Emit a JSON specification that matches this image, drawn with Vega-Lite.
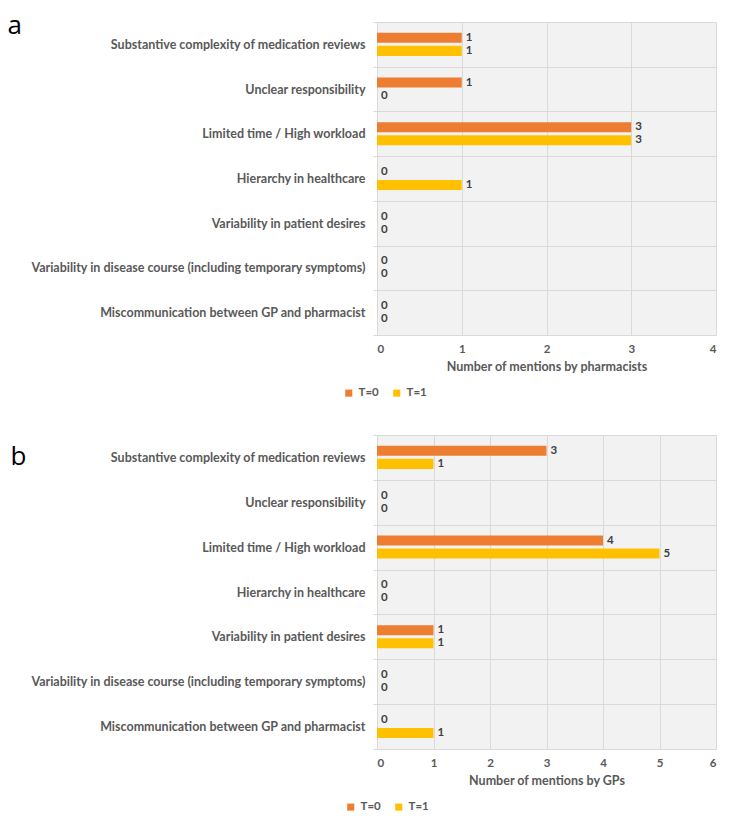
{
  "$schema": "https://vega.github.io/schema/vega-lite/v6.json",
  "background": "white",
  "padding": {"left": 7, "top": 12, "right": 5, "bottom": 5},
  "spacing": 30,
  "datasets": {
    "pharm": [
      {"category": "Substantive complexity of medication reviews", "series": "T=0", "value": 1},
      {"category": "Substantive complexity of medication reviews", "series": "T=1", "value": 1},
      {"category": "Unclear responsibility", "series": "T=0", "value": 1},
      {"category": "Unclear responsibility", "series": "T=1", "value": 0},
      {"category": "Limited time / High workload", "series": "T=0", "value": 3},
      {"category": "Limited time / High workload", "series": "T=1", "value": 3},
      {"category": "Hierarchy in healthcare", "series": "T=0", "value": 0},
      {"category": "Hierarchy in healthcare", "series": "T=1", "value": 1},
      {"category": "Variability in patient desires", "series": "T=0", "value": 0},
      {"category": "Variability in patient desires", "series": "T=1", "value": 0},
      {"category": "Variability in disease course (including temporary symptoms)", "series": "T=0", "value": 0},
      {"category": "Variability in disease course (including temporary symptoms)", "series": "T=1", "value": 0},
      {"category": "Miscommunication between GP and pharmacist", "series": "T=0", "value": 0},
      {"category": "Miscommunication between GP and pharmacist", "series": "T=1", "value": 0}
    ],
    "gps": [
      {"category": "Substantive complexity of medication reviews", "series": "T=0", "value": 3},
      {"category": "Substantive complexity of medication reviews", "series": "T=1", "value": 1},
      {"category": "Unclear responsibility", "series": "T=0", "value": 0},
      {"category": "Unclear responsibility", "series": "T=1", "value": 0},
      {"category": "Limited time / High workload", "series": "T=0", "value": 4},
      {"category": "Limited time / High workload", "series": "T=1", "value": 5},
      {"category": "Hierarchy in healthcare", "series": "T=0", "value": 0},
      {"category": "Hierarchy in healthcare", "series": "T=1", "value": 0},
      {"category": "Variability in patient desires", "series": "T=0", "value": 1},
      {"category": "Variability in patient desires", "series": "T=1", "value": 1},
      {"category": "Variability in disease course (including temporary symptoms)", "series": "T=0", "value": 0},
      {"category": "Variability in disease course (including temporary symptoms)", "series": "T=1", "value": 0},
      {"category": "Miscommunication between GP and pharmacist", "series": "T=0", "value": 0},
      {"category": "Miscommunication between GP and pharmacist", "series": "T=1", "value": 1}
    ]
  },
  "config": {
    "font": "Lato",
    "view": {"fill": "#f2f2f2", "stroke": null},
    "axis": {
      "labelFont": "Lato",
      "labelFontWeight": "bold",
      "labelColor": "#595959",
      "titleFont": "Lato",
      "titleFontWeight": "bold",
      "titleColor": "#595959",
      "gridColor": "#d9d9d9",
      "domainColor": "#d9d9d9",
      "tickColor": "#d9d9d9"
    },
    "legend": {
      "orient": "none",
      "direction": "horizontal",
      "symbolType": "square",
      "symbolSize": 50,
      "symbolStrokeWidth": 0,
      "labelFont": "Lato",
      "labelFontSize": 11.5,
      "labelFontWeight": "bold",
      "labelColor": "#595959",
      "columnPadding": 12,
      "title": null
    }
  },
  "vconcat": [
    {
      "width": 339,
      "height": 313,
      "data": {"name": "pharm"},
      "encoding": {
        "y": {
          "field": "category", "type": "nominal",
          "sort": ["Substantive complexity of medication reviews", "Unclear responsibility", "Limited time / High workload", "Hierarchy in healthcare", "Variability in patient desires", "Variability in disease course (including temporary symptoms)", "Miscommunication between GP and pharmacist"],
          "scale": {"paddingInner": 0, "paddingOuter": 0},
          "axis": {
            "title": "a", "titleAngle": 0, "titleX": -370, "titleY": 3,
            "titleFontSize": 26, "titleFontWeight": "normal", "titleColor": "black", "titleFont": "Open Sans",
            "titleAlign": "left", "titleBaseline": "middle",
            "grid": true, "tickBand": "extent", "tickSize": 4, "domain": false,
            "labelPadding": 8, "labelFontSize": 12.5, "labelLimit": 400
          }
        },
        "yOffset": {"field": "series", "type": "nominal", "scale": {"paddingInner": 0.23, "paddingOuter": 0.83}},
        "x": {
          "field": "value", "type": "quantitative",
          "scale": {"domain": [0, 4]},
          "axis": {"title": "Number of mentions by pharmacists", "tickCount": 4, "grid": true, "ticks": false, "labelPadding": 8, "labelFontSize": 11.5, "titleFontSize": 12.5, "titlePadding": 6}
        }
      },
      "layer": [
        {
          "mark": {"type": "bar"},
          "encoding": {
            "color": {"field": "series", "type": "nominal", "scale": {"domain": ["T=0", "T=1"], "range": ["#ED7D31", "#FFC000"]},
              "legend": {"legendX": -34, "legendY": 365}}
          }
        },
        {
          "mark": {"type": "text", "align": "left", "baseline": "middle", "dx": 4, "fontWeight": "bold", "fontSize": 11.5, "color": "#404040"},
          "encoding": {"text": {"field": "value", "type": "quantitative"}}
        }
      ]
    },
    {
      "width": 339,
      "height": 314,
      "data": {"name": "gps"},
      "encoding": {
        "y": {
          "field": "category", "type": "nominal",
          "sort": ["Substantive complexity of medication reviews", "Unclear responsibility", "Limited time / High workload", "Hierarchy in healthcare", "Variability in patient desires", "Variability in disease course (including temporary symptoms)", "Miscommunication between GP and pharmacist"],
          "scale": {"paddingInner": 0, "paddingOuter": 0},
          "axis": {
            "title": "b", "titleAngle": 0, "titleX": -367, "titleY": 21,
            "titleFontSize": 26, "titleFontWeight": "normal", "titleColor": "black", "titleFont": "Open Sans",
            "titleAlign": "left", "titleBaseline": "middle",
            "grid": true, "tickBand": "extent", "tickSize": 4, "domain": false,
            "labelPadding": 8, "labelFontSize": 12.5, "labelLimit": 400
          }
        },
        "yOffset": {"field": "series", "type": "nominal", "scale": {"paddingInner": 0.23, "paddingOuter": 0.83}},
        "x": {
          "field": "value", "type": "quantitative",
          "scale": {"domain": [0, 6]},
          "axis": {"title": "Number of mentions by GPs", "tickCount": 6, "grid": true, "ticks": false, "labelPadding": 8, "labelFontSize": 11.5, "titleFontSize": 12.5, "titlePadding": 6}
        }
      },
      "layer": [
        {
          "mark": {"type": "bar"},
          "encoding": {
            "color": {"field": "series", "type": "nominal", "scale": {"domain": ["T=0", "T=1"], "range": ["#ED7D31", "#FFC000"]},
              "legend": {"legendX": -32, "legendY": 366}}
          }
        },
        {
          "mark": {"type": "text", "align": "left", "baseline": "middle", "dx": 4, "fontWeight": "bold", "fontSize": 11.5, "color": "#404040"},
          "encoding": {"text": {"field": "value", "type": "quantitative"}}
        }
      ]
    }
  ],
  "resolve": {"legend": {"color": "independent"}}
}
